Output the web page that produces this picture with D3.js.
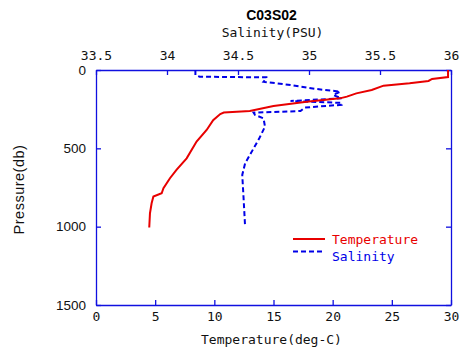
<!DOCTYPE html>
<html>
<head>
<meta charset="utf-8">
<script src="https://cdn.jsdelivr.net/npm/d3@7"></script>
<style>
  body { margin: 0; background: #fff; }
  .mono { font-family: "DejaVu Sans Mono", monospace; font-size: 13px; }
  .sans { font-family: "Liberation Sans", Arial, sans-serif; font-size: 13.5px; }
</style>
</head>
<body>
<div id="chart"></div>
<script>
// temperature profile
var tempPressure = [0, 45, 57, 70, 85, 100, 128, 149, 170, 181, 202, 230, 262, 272, 281, 320, 383, 457, 564, 638, 691, 755, 787, 808, 851, 915, 1005];
var tempValues = [29.75, 29.75, 28.4, 28.1, 26.5, 24.3, 23.3, 22.0, 21.2, 20.6, 17.8, 15.0, 13.0, 10.8, 10.5, 9.9, 9.35, 8.5, 7.66, 6.8, 6.25, 5.7, 5.55, 4.85, 4.7, 4.56, 4.5];

// salinity profile
var salPressure = [0, 32, 43, 47, 53, 75, 96, 121, 138, 160, 181, 198, 210, 222, 240, 262, 272, 287, 309, 362, 436, 500, 596, 670, 830, 1000];
var salValues = [34.20, 34.20, 34.23, 34.70, 34.70, 34.68, 34.87, 35.05, 35.22, 35.17, 35.23, 34.87, 35.23, 35.23, 34.97, 34.94, 34.61, 34.62, 34.68, 34.69, 34.65, 34.61, 34.55, 34.53, 34.54, 34.55];

var tempTicks = [0, 5, 10, 15, 20, 25, 30];
var salTicks = [33.5, 34, 34.5, 35, 35.5, 36];
var pressureTicks = [0, 500, 1000, 1500];

var title = "C03S02";
var legendNames = ["Temperature", "Salinity"];

var margin = { top: 70, right: 13, bottom: 51, left: 96 },
  width = 464 - margin.left - margin.right,
  height = 356 - margin.top - margin.bottom;

var axisColor = "#1010e0", red = "#e80000", blue = "#0000e8";

var svg = d3.select("#chart")
  .append("svg")
  .attr("width", 464)
  .attr("height", 356)
  .append("g")
  .attr("transform", "translate(" + margin.left + "," + margin.top + ")");

var xTemp = d3.scaleLinear().domain([0, 30]).range([0, width]);
var xSal = d3.scaleLinear().domain([33.5, 36]).range([0, width]);
var yScale = d3.scaleLinear().domain([0, 1500]).range([0, height]);

function styleAxis(g, cls) {
  g.selectAll("path, line").attr("stroke", axisColor).attr("stroke-width", 1.3);
  g.selectAll("text").attr("class", cls).attr("fill", "#111").attr("font-size", null).attr("font-family", null);
}

svg.append("g")
  .call(d3.axisTop(xSal).tickValues(salTicks).tickFormat(d3.format("")).tickSizeInner(-5).tickSizeOuter(0).tickPadding(10))
  .call(styleAxis, "mono");

svg.append("g")
  .attr("transform", "translate(0," + height + ")")
  .call(d3.axisBottom(xTemp).tickValues(tempTicks).tickSizeInner(-5).tickSizeOuter(0).tickPadding(7))
  .call(styleAxis, "mono");

svg.append("g")
  .call(d3.axisLeft(yScale).tickValues(pressureTicks).tickFormat(d3.format("d")).tickSizeInner(-5).tickSizeOuter(0).tickPadding(10))
  .call(styleAxis, "sans");

svg.append("g")
  .attr("transform", "translate(" + width + ",0)")
  .call(d3.axisRight(yScale).tickValues(pressureTicks).tickSizeInner(-5).tickSizeOuter(0).tickFormat(""))
  .call(styleAxis, "sans");

var tempData = tempPressure.map(function (p, i) { return { p: p, v: tempValues[i] }; });
var salData = salPressure.map(function (p, i) { return { p: p, v: salValues[i] }; });

svg.append("path")
  .datum(salData)
  .attr("fill", "none")
  .attr("stroke", blue)
  .attr("stroke-width", 2)
  .attr("stroke-dasharray", "5,3")
  .attr("d", d3.line().x(function (d) { return xSal(d.v); }).y(function (d) { return yScale(d.p); }));

svg.append("path")
  .datum(tempData)
  .attr("fill", "none")
  .attr("stroke", red)
  .attr("stroke-width", 2)
  .attr("d", d3.line().x(function (d) { return xTemp(d.v); }).y(function (d) { return yScale(d.p); }));

// titles
svg.append("text")
  .attr("x", width / 2 - 2).attr("y", -50)
  .attr("text-anchor", "middle")
  .style("font-family", "Liberation Sans, Arial, sans-serif")
  .style("font-weight", "bold")
  .style("font-size", "14px")
  .text(title);

svg.append("text")
  .attr("class", "mono")
  .attr("x", width / 2 - 1).attr("y", -33)
  .attr("text-anchor", "middle")
  .attr("fill", "#111")
  .text("Salinity(PSU)");

svg.append("text")
  .attr("class", "mono")
  .attr("x", width / 2 - 2).attr("y", height + 39)
  .attr("text-anchor", "middle")
  .attr("fill", "#111")
  .text("Temperature(deg-C)");

svg.append("text")
  .attr("class", "sans")
  .attr("transform", "translate(" + (24 - margin.left) + "," + (height / 2 + 2) + ") rotate(-90)")
  .attr("text-anchor", "middle")
  .attr("fill", "#111")
  .style("font-size", "14.5px")
  .style("letter-spacing", "0.5px")
  .text("Pressure(db)");

// legend
var legend = svg.append("g").attr("transform", "translate(197,169)");
var legendColors = [red, blue];
legendNames.forEach(function (name, i) {
  legend.append("line")
    .attr("x1", 0).attr("x2", 32)
    .attr("y1", i * 12.5).attr("y2", i * 12.5)
    .attr("stroke", legendColors[i])
    .attr("stroke-width", 2)
    .attr("stroke-dasharray", i === 1 ? "5,3" : null);
  legend.append("text")
    .attr("class", "mono")
    .attr("x", 39).attr("y", i * 16.5 + 5)
    .attr("fill", legendColors[i])
    .text(name);
});
</script>
</body>
</html>
